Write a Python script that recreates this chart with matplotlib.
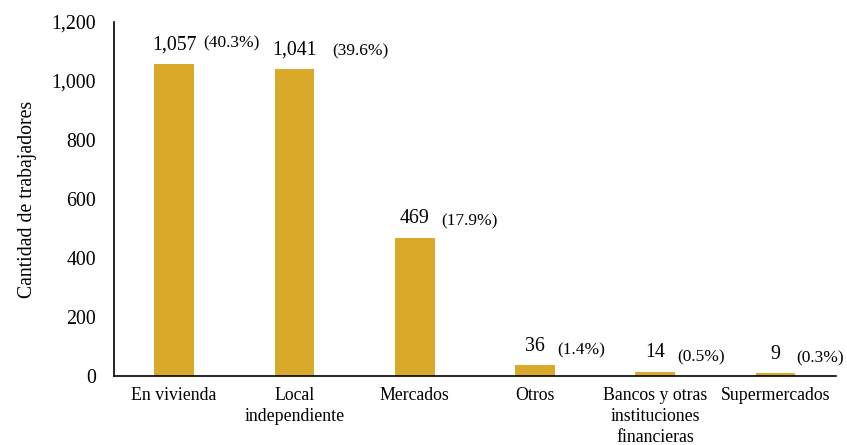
import matplotlib
matplotlib.use("Agg")
import matplotlib.pyplot as plt
from matplotlib.ticker import FuncFormatter

categories = ["En vivienda", "Local\nindependiente", "Mercados", "Otros",
              "Bancos y otras\ninstituciones\nfinancieras", "Supermercados"]
values = [1057, 1041, 469, 36, 14, 9]
percents = ["(40.3%)", "(39.6%)", "(17.9%)", "(1.4%)", "(0.5%)", "(0.3%)"]
yticks = [0, 200, 400, 600, 800, 1000, 1200]

plt.rcParams['font.family'] = ['Liberation Serif', 'DejaVu Serif']

fig = plt.figure(figsize=(8.47, 4.45), dpi=100)
ax = fig.add_axes([0.1346, 0.155, 0.852, 0.7956])

x = list(range(len(categories)))
color = "#D9AA2A"
ax.bar(x, values, width=0.33, color=color)

ax.set_xlim(-0.5, len(categories) - 0.5)
ax.set_ylim(0, 1200)
ax.set_yticks(yticks)
ax.yaxis.set_major_formatter(FuncFormatter(lambda v, p: f"{int(v):,}"))
ax.set_xticks(x)
ax.set_xticklabels(categories, fontsize=12.8, linespacing=1.3)
ax.tick_params(axis='y', length=0, pad=13, labelsize=14.3)
ax.tick_params(axis='x', length=0, pad=8)
for s in ["top", "right"]:
    ax.spines[s].set_visible(False)
for s in ["left", "bottom"]:
    ax.spines[s].set_linewidth(1.2)
ax.set_ylabel("Cantidad de trabajadores", fontsize=14.2, labelpad=10)

pct_dx = [21, 27, 19, 16, 16, 15]
pct_dy = [9, 7, 6, 5, 5, 5]
for xi, v, p, dx, dy in zip(x, values, percents, pct_dx, pct_dy):
    ax.annotate(f"{v:,}", (xi, v), xytext=(0, 7), textcoords="offset points",
                ha="center", va="bottom", fontsize=14.3)
    ax.annotate(p, (xi, v), xytext=(dx, dy), textcoords="offset points",
                ha="left", va="bottom", fontsize=12.5)

fig.savefig("out.png", dpi=100)
